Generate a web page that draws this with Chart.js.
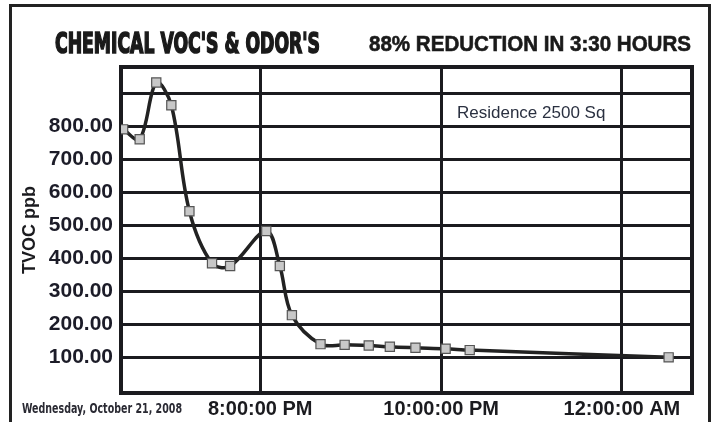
<!DOCTYPE html>
<html>
<head>
<meta charset="utf-8">
<script src="https://cdn.jsdelivr.net/npm/chart.js@4.4.1/dist/chart.umd.min.js"></script>
<style>
  html, body { margin: 0; padding: 0; background: #fff; }
</style>
</head>
<body>
<canvas id="vocChart" width="716" height="422"></canvas>
<script>
// sample times (24h clock, past midnight written as 24:xx) and readings
const times = ["18:29","18:40","18:51","19:01","19:13","19:28","19:40","20:04","20:13","20:21","20:40","20:56","21:12","21:26","21:43","22:03","22:19","24:31"];
const tvoc = [790,760,932,863,542,384,376,482,376,227,139,137,135,131,128,125,121,99];
const xTickHours = [20,22,24];
const yTicks = [100,200,300,400,500,600,700,800,900];
const yLabelHidden = [900];

function toHours(t) {
    const p = t.split(":");
    return Number(p[0]) + Number(p[1]) / 60;
}

function clockLabel(h) {
    let hh = Math.floor(h) % 24;
    const mm = Math.round((h - Math.floor(h)) * 60);
    const ampm = hh >= 12 ? "PM" : "AM";
    hh = hh % 12 === 0 ? 12 : hh % 12;
    return hh + ":" + String(mm).padStart(2, "0") + ":00 " + ampm;
}

const points = times.map((t, i) => ({ x: toHours(t), y: tvoc[i] }));

const ink = '#1b1b1f';

const decor = {
    id: 'decor',
    beforeDatasetsDraw(chart) {
        const { ctx, chartArea: a } = chart;
        ctx.save();
        ctx.strokeStyle = ink;
        ctx.lineWidth = 4;
        ctx.strokeRect(a.left, a.top, a.right - a.left, a.bottom - a.top);
        ctx.restore();
    },
    afterDraw(chart) {
        const ctx = chart.ctx;
        ctx.save();
        // outer frame
        ctx.strokeStyle = '#222';
        ctx.lineWidth = 3;
        ctx.strokeRect(10.5, 5.5, 699, 440);

        ctx.fillStyle = '#1a1a1a';
        ctx.strokeStyle = '#1a1a1a';
        ctx.textBaseline = 'alphabetic';
        ctx.textAlign = 'left';
        // heavy condensed headline
        ctx.font = 'bold 28px "Liberation Sans Narrow", "DejaVu Sans Condensed", sans-serif';
        ctx.lineWidth = 1.6;
        ctx.fillText("CHEMICAL VOC'S & ODOR'S", 55, 53, 265);
        ctx.strokeText("CHEMICAL VOC'S & ODOR'S", 55, 53, 265);

        ctx.font = 'bold 22px "Liberation Sans", Arial, sans-serif';
        ctx.lineWidth = 0.6;
        ctx.fillText("88% REDUCTION IN 3:30 HOURS", 369, 51, 322);
        ctx.strokeText("88% REDUCTION IN 3:30 HOURS", 369, 51, 322);

        ctx.fillStyle = '#2a3040';
        ctx.font = '17px "Liberation Sans", Arial, sans-serif';
        ctx.fillText("Residence 2500 Sq", 457, 118, 151);

        ctx.fillStyle = '#2a2a33';
        ctx.font = 'bold 14px "Liberation Sans Narrow", "DejaVu Sans Condensed", sans-serif';
        ctx.fillText("Wednesday, October 21, 2008", 22, 413, 160);
        ctx.restore();
    }
};

new Chart(document.getElementById("vocChart"), {
    type: 'line',
    data: {
        datasets: [{
            label: "Residence 2500 Sq",
            data: points,
            borderColor: '#222',
            borderWidth: 3.5,
            tension: 0.35,
            fill: false,
            pointStyle: 'rect',
            pointRadius: 6.5,
            pointBackgroundColor: '#c8c8c8',
            pointBorderColor: '#555',
            pointBorderWidth: 1.2
        }]
    },
    options: {
        responsive: false,
        animation: false,
        devicePixelRatio: 1,
        layout: { padding: { left: 12, right: 24, top: 67, bottom: 0 } },
        plugins: {
            legend: { display: false },
            tooltip: { enabled: false }
        },
        scales: {
            x: {
                type: 'linear',
                min: 18.46,
                max: 24.775,
                afterBuildTicks: s => { s.ticks = xTickHours.map(v => ({ value: v })); },
                afterFit: s => { s.height = 29; },
                grid: { color: ink, lineWidth: 3, drawTicks: false },
                border: { display: false },
                ticks: {
                    autoSkip: false,
                    maxRotation: 0,
                    padding: 4,
                    color: ink,
                    font: { family: '"Liberation Sans", Arial, sans-serif', size: 20, weight: 'bold' },
                    callback: v => clockLabel(v)
                }
            },
            y: {
                min: -9,
                max: 979,
                afterBuildTicks: s => { s.ticks = yTicks.map(v => ({ value: v })); },
                afterFit: s => { s.width = 109; },
                grid: { color: ink, lineWidth: 3, drawTicks: false },
                border: { display: false },
                title: {
                    display: true,
                    text: 'TVOC ppb',
                    color: ink,
                    padding: { top: 7, bottom: 0 },
                    font: { family: '"Liberation Sans", Arial, sans-serif', size: 18, weight: 'bold' }
                },
                ticks: {
                    padding: 8,
                    color: '#1c1c28',
                    font: { family: '"Liberation Sans", Arial, sans-serif', size: 21, weight: 'bold' },
                    callback: v => yLabelHidden.includes(v) ? '' : v.toFixed(2)
                }
            }
        }
    },
    plugins: [decor]
});
</script>
</body>
</html>
